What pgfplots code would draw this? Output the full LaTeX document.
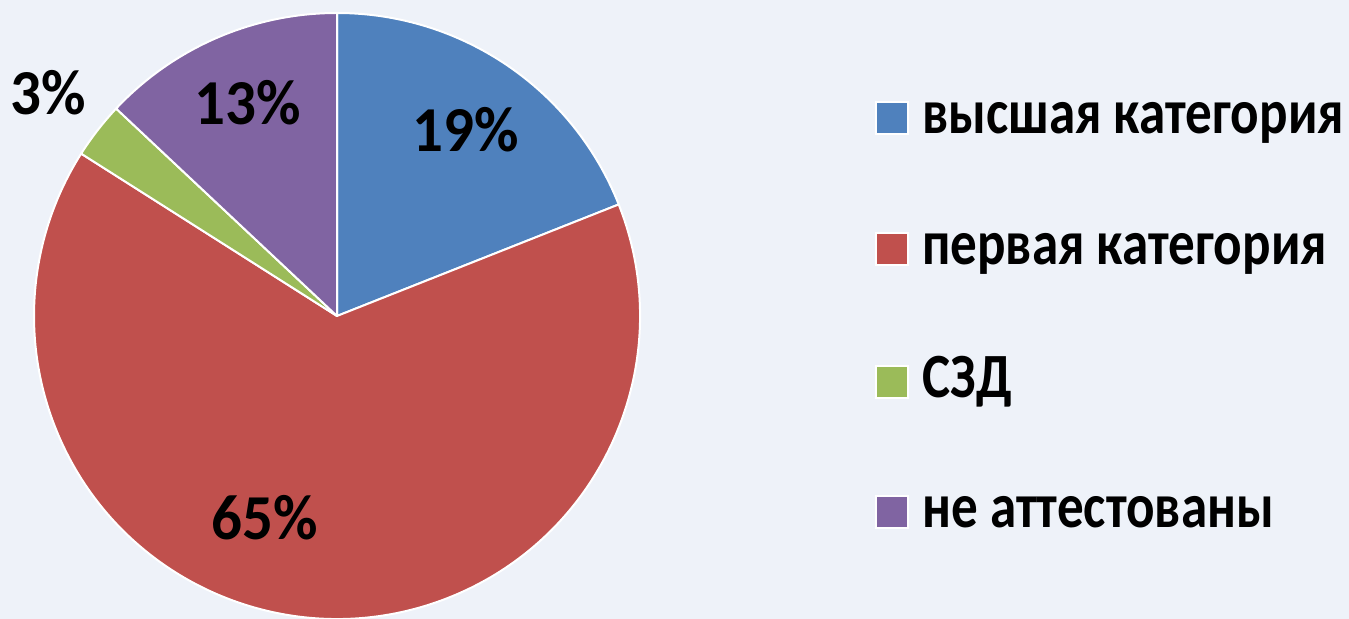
\documentclass[border=0pt]{standalone}
\usepackage{pgfplots}
\usepackage{pgfplotstable}
\pgfplotsset{compat=1.18}
\usepackage{fontspec}
\setmainfont{Carlito}
\definecolor{cblue}{HTML}{4F81BD}
\definecolor{cred}{HTML}{C0504D}
\definecolor{cgreen}{HTML}{9BBB59}
\definecolor{cpurple}{HTML}{8064A2}
\definecolor{bg}{HTML}{EEF2F9}

\pgfplotstableread{
value
19
65
3
13
}\piedata

\pgfplotstablegetelem{0}{value}\of\piedata \let\vA\pgfplotsretval
\pgfplotstablegetelem{1}{value}\of\piedata \let\vB\pgfplotsretval
\pgfplotstablegetelem{2}{value}\of\piedata \let\vC\pgfplotsretval
\pgfplotstablegetelem{3}{value}\of\piedata \let\vD\pgfplotsretval
\pgfmathsetmacro{\aA}{90}
\pgfmathsetmacro{\aB}{\aA-3.6*\vA}
\pgfmathsetmacro{\aC}{\aB-3.6*\vB}
\pgfmathsetmacro{\aD}{\aC-3.6*\vC}
\pgfmathsetmacro{\aE}{\aD-3.6*\vD}

\newcommand{\slice}[3]{%
  \filldraw[fill=#1, draw=white, line width=1pt, line join=round]
    (axis cs:337,303) -- ++(#2:151.5pt) arc[start angle=#2, end angle=#3, radius=151.5pt] -- cycle;}

\begin{document}
\begin{tikzpicture}
\begin{axis}[
  x=0.5pt, y=0.5pt,
  xmin=0, xmax=1349, ymin=0, ymax=619,
  hide axis, enlargelimits=false,
  clip=true,
]
\fill[bg] (axis cs:0,0) rectangle (axis cs:1349,619);
\slice{cblue}{\aA}{\aB}
\slice{cred}{\aB}{\aC}
\slice{cgreen}{\aC}{\aD}
\slice{cpurple}{\aD}{\aE}
\begin{scope}[font=\fontsize{30.5}{36}\selectfont\bfseries]
\node[transform shape, yscale=1.05] at (axis cs:466,489) {\vA\%};
\node[transform shape, yscale=1.05] at (axis cs:265,101) {\vB\%};
\node[transform shape, yscale=1.05] at (axis cs:48,526) {\vC\%};
\node[transform shape, yscale=1.05] at (axis cs:248,516) {\vD\%};
\end{scope}
% legend
\filldraw[fill=cblue, draw=white, line width=0.8pt] (axis cs:876,485) rectangle (axis cs:908,517);
\filldraw[fill=cred, draw=white, line width=0.8pt] (axis cs:876,354) rectangle (axis cs:908,386);
\filldraw[fill=cgreen, draw=white, line width=0.8pt] (axis cs:876,221) rectangle (axis cs:908,253);
\filldraw[fill=cpurple, draw=white, line width=0.8pt] (axis cs:876,91) rectangle (axis cs:908,123);
\begin{scope}[font=\fontsize{30}{36}\selectfont\bfseries]
\node[anchor=base west, inner sep=0pt, transform shape, xscale=0.885, yscale=1.05] at (axis cs:922,485) {высшая категория};
\node[anchor=base west, inner sep=0pt, transform shape, xscale=0.885, yscale=1.05] at (axis cs:922,354) {первая категория};
\node[anchor=base west, inner sep=0pt, transform shape, xscale=0.885, yscale=1.05] at (axis cs:922,221) {СЗД};
\node[anchor=base west, inner sep=0pt, transform shape, xscale=0.885, yscale=1.05] at (axis cs:922,91) {не аттестованы};
\end{scope}
\end{axis}
\pgfresetboundingbox
\path[use as bounding box] (current axis.south west) rectangle (current axis.north east);
\end{tikzpicture}
\end{document}
